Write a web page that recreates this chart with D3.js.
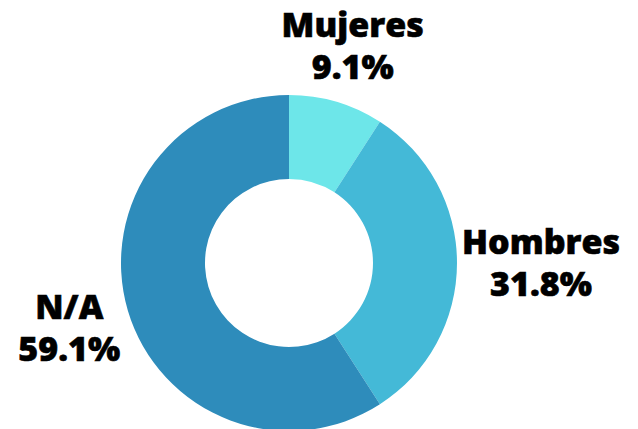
<!DOCTYPE html>
<html>
<head>
<meta charset="utf-8">
<script src="https://cdn.jsdelivr.net/npm/d3@7"></script>
<style>
  html,body{margin:0;padding:0;background:#fff;}
  svg{display:block;font-family:"Open Sans",sans-serif;}
</style>
</head>
<body>
<div id="chart"></div>
<script>
const categories=['Mujeres','Hombres','N/A'];
const values=[9.1,31.8,59.1];
const colors=['#6de6e9','#44b9d7','#2e8cbb'];

const W=638,H=429;
const cx=289,cy=263,rOut=168,rIn=84;
const svg=d3.select('#chart').append('svg').attr('width',W).attr('height',H);
const g=svg.append('g').attr('transform',`translate(${cx},${cy})`);

const pie=d3.pie().sort(null).value(d=>d.v);
const arcs=pie(categories.map((c,i)=>({c,v:values[i]})));
const arc=d3.arc().innerRadius(rIn).outerRadius(rOut);

g.selectAll('path').data(arcs).join('path')
  .attr('d',arc).attr('fill',(d,i)=>colors[i]);

// labels: two-line block centred on a point along each slice's mid angle
const labelR=[226,252,229];
const lineGap=42;
arcs.forEach((d,i)=>{
  const a=(d.startAngle+d.endAngle)/2;
  const lx=Math.sin(a)*labelR[i], ly=-Math.cos(a)*labelR[i];
  const t=g.append('text').attr('text-anchor','middle').attr('font-size',34).attr('font-weight',800).attr('fill','#000')
    .attr('stroke','#000').attr('stroke-width',0.6)
    .attr('transform',`translate(${lx},${ly})`);
  t.append('tspan').attr('x',0).attr('y',-9).text(d.data.c);
  t.append('tspan').attr('x',0).attr('y',-9+lineGap).text(d3.format('.1f')(d.data.v)+'%');
});
</script>
</body>
</html>
